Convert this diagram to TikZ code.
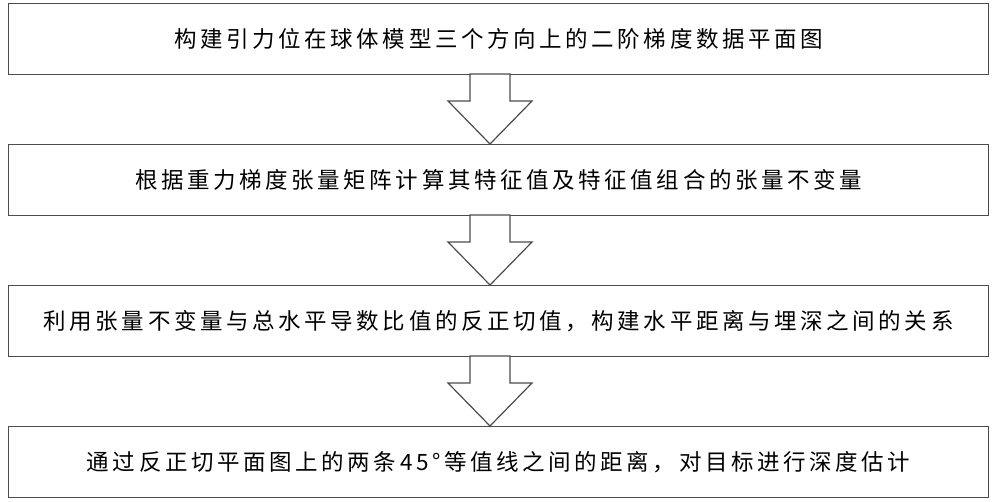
\documentclass[tikz,border=0pt]{standalone}
\usepackage{fontspec}
\setmainfont{Noto Sans CJK SC}
\newfontfamily\spaced[LetterSpace=16]{Noto Sans CJK SC}
\tikzset{box/.style={draw=black!70,line width=1.2pt,fill=white,minimum width=980pt,minimum height=71pt,anchor=north west,inner sep=0pt,font=\spaced\fontsize{22.5}{26}\selectfont},
barrow/.style={draw=black!70,line width=1.2pt,fill=white}}
\begin{document}
\begin{tikzpicture}[x=1pt,y=-1pt]
\useasboundingbox (0,0) rectangle (1000,502);
\node[box] (b1) at (8,3) {构建引力位在球体模型三个方向上的二阶梯度数据平面图};
\node[box] (b2) at (8,144) {根据重力梯度张量矩阵计算其特征值及特征值组合的张量不变量};
\node[box] (b3) at (8,285) {利用张量不变量与总水平导数比值的反正切值，构建水平距离与埋深之间的关系};
\node[box] (b4) at (8,426) {通过反正切平面图上的两条45°等值线之间的距离，对目标进行深度估计};
\foreach \t in {74,215,356}{
  \draw[barrow] (470,\t) -- (470,\t+27) -- (448,\t+27) -- (490,\t+70) -- (532,\t+27) -- (510,\t+27) -- (510,\t) -- cycle;
}
\end{tikzpicture}
\end{document}
